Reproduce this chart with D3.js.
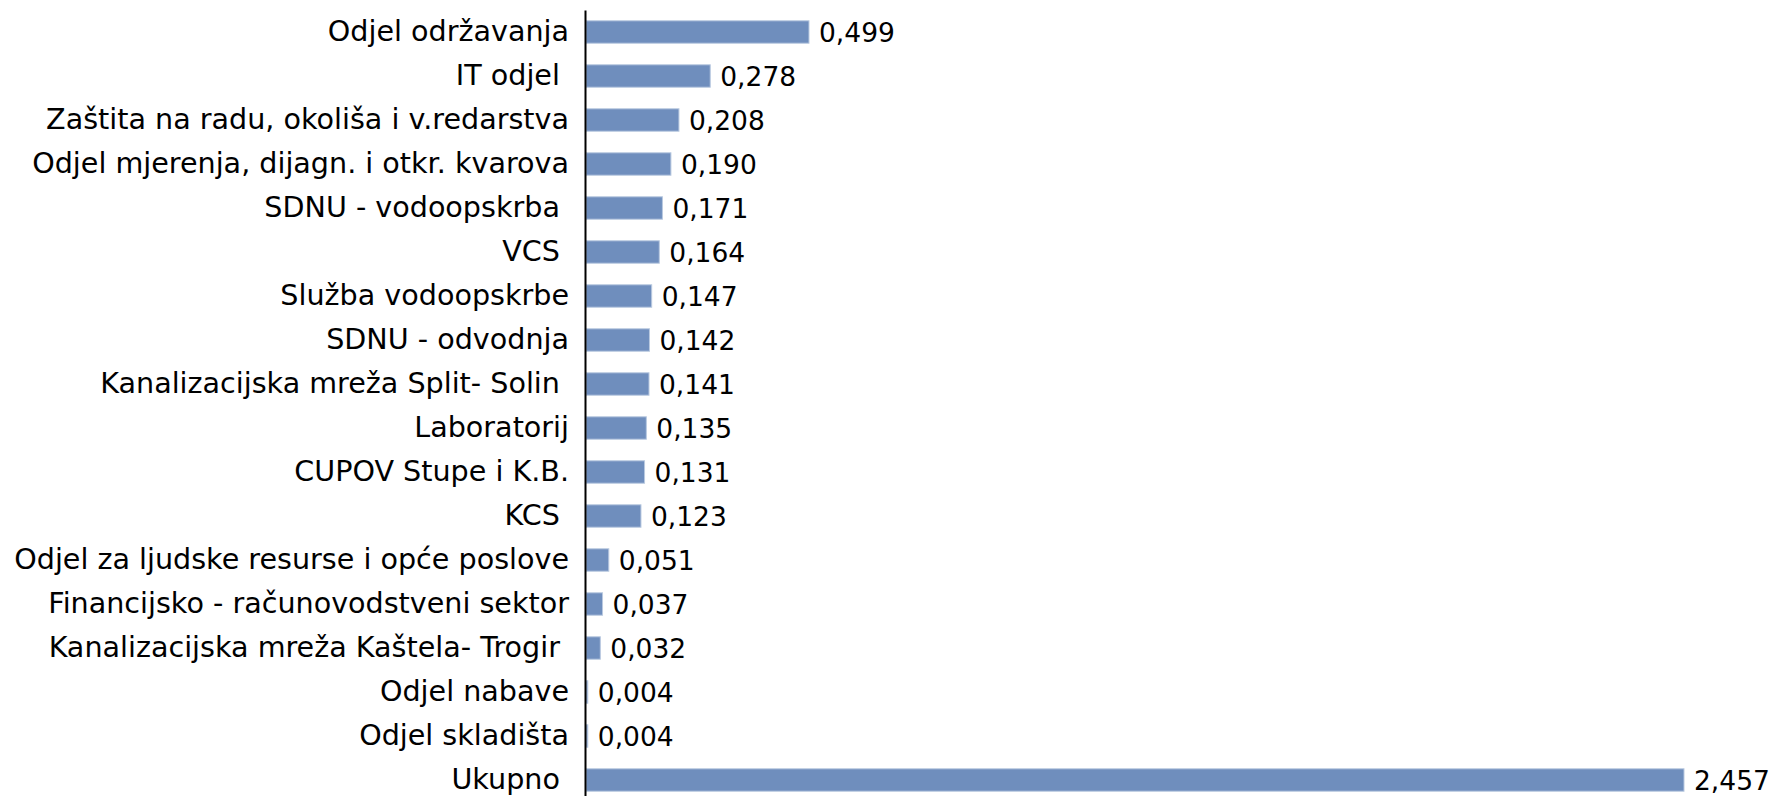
<!DOCTYPE html>
<html lang="hr">
<head>
    <meta charset="utf-8">
    <title>Bar chart</title>
    <script src="https://d3js.org/d3.v7.min.js"></script>
    <style>
        body { margin: 0; background: #fff; }
        svg text { font-family: "DejaVu Sans", sans-serif; fill: #000; white-space: pre; }
        svg text.val { font-size: 26.5px; }
        svg .tick text { font-size: 28.6px; }
    </style>
</head>
<body>
    <div id="chart"></div>

    <script>
        var categories = ["Odjel održavanja", "IT odjel ", "Zaštita na radu, okoliša i v.redarstva",
            "Odjel mjerenja, dijagn. i otkr. kvarova", "SDNU - vodoopskrba ", "VCS ",
            "Služba vodoopskrbe", "SDNU - odvodnja", "Kanalizacijska mreža Split- Solin ",
            "Laboratorij", "CUPOV Stupe i K.B.", "KCS ", "Odjel za ljudske resurse i opće poslove",
            "Financijsko - računovodstveni sektor", "Kanalizacijska mreža Kaštela- Trogir ",
            "Odjel nabave", "Odjel skladišta", "Ukupno "];
        var values = [0.499, 0.278, 0.208, 0.190, 0.171, 0.164, 0.147, 0.142, 0.141,
            0.135, 0.131, 0.123, 0.051, 0.037, 0.032, 0.004, 0.004, 2.457];

        var width = 1772;
        var height = 796;
        var axisX = 586;

        var hr = d3.formatLocale({ decimal: ",", thousands: ".", grouping: [3], currency: ["", ""] });
        var fmt = hr.format(".3f");

        var svg = d3.select("#chart").append("svg")
            .attr("width", width)
            .attr("height", height);

        var xscale = d3.scaleLinear()
            .domain([0, d3.max(values)])
            .range([axisX, 1684]);

        var yscale = d3.scaleBand()
            .domain(categories)
            .range([10, 802])
            .paddingInner(0.49)
            .paddingOuter(0.245);

        var data = categories.map(function (c, i) { return { name: c, value: values[i] }; });

        svg.selectAll("rect.bar")
            .data(data)
            .enter()
            .append("rect")
            .attr("class", "bar")
            .attr("x", xscale(0))
            .attr("y", function (d) { return yscale(d.name); })
            .attr("width", function (d) { return xscale(d.value) - xscale(0); })
            .attr("height", yscale.bandwidth())
            .attr("fill", "#6f8ebd")
            .attr("stroke", "#b9c9e0")
            .attr("stroke-width", 1);

        svg.selectAll("text.val")
            .data(data)
            .enter()
            .append("text")
            .attr("class", "val")
            .attr("x", function (d) { return xscale(d.value) + 10; })
            .attr("y", function (d) { return yscale(d.name) + yscale.bandwidth() / 2; })
            .attr("dy", "0.36em")
            .text(function (d) { return fmt(d.value); });

        var yaxis = d3.axisLeft(yscale).tickSize(0).tickSizeOuter(0).tickPadding(16);
        var g = svg.append("g")
            .attr("transform", "translate(" + (axisX - 1) + ",0)")
            .call(yaxis);
        g.select(".domain").attr("stroke", "#000").attr("stroke-width", 2);
        g.selectAll(".tick text")
            .attr("font-family", null)
            .attr("font-size", null)
            .attr("fill", "#000");
    </script>
</body>
</html>
